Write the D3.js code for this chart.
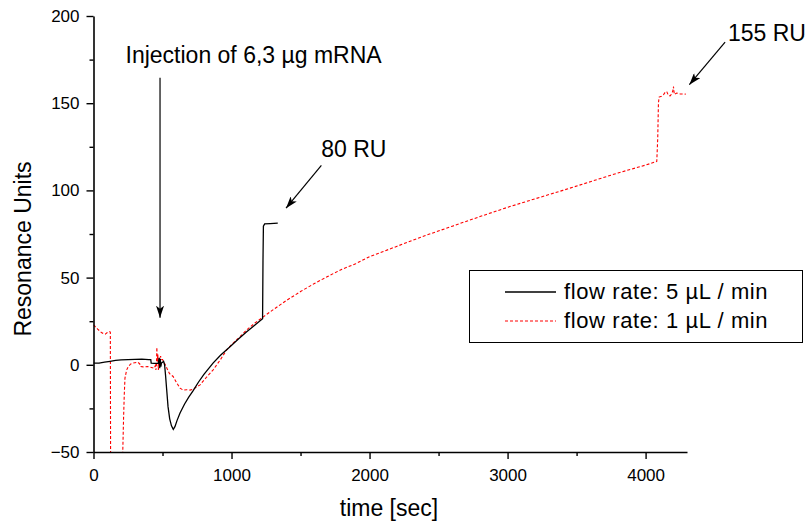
<!DOCTYPE html>
<html>
<head>
<meta charset="utf-8">
<script src="https://cdn.jsdelivr.net/npm/d3@7"></script>
<style>
  html, body { margin: 0; padding: 0; background: #fff; }
  svg { display: block; font-family: "Liberation Sans", Arial, sans-serif; }
</style>
</head>
<body>
<svg id="chart" width="809" height="522"></svg>
<script>
// ---- data ----
const xMajorTicks = [0, 1000, 2000, 3000, 4000];
const xMinorTicks = [500, 1500, 2500, 3500];
const yMajorTicks = [-50, 0, 50, 100, 150, 200];
const yMinorTicks = [-25, 25, 75, 125, 175];

const seriesNames = ["flow rate: 5 µL / min", "flow rate: 1 µL / min"];

// [time (s), resonance units]
const flow5 = [
  [0,1],[40,1],[80,1.5],[120,2],[160,2.5],[200,2.8],[250,3],[300,3.1],[350,3.2],[400,3],[415,3],
  [418,1],[440,0.8],[470,1],[476,4],[480,-2],[484,3.5],[488,-1],[492,1],[500,1.5],[508,2],[515,0],
  [522,-6],[530,-14],[540,-24],[552,-31],[565,-35],[578,-37],[590,-35.5],[605,-32],[627,-27.6],
  [660,-22.5],[690,-18.5],[721,-15],[760,-10],[800,-5.5],[866,1],[920,5.5],[989,10.4],[1050,14.8],
  [1110,19],[1170,22.8],[1225,26.4],[1228,60],[1231,79.5],[1240,80.8],[1280,81],[1335,81.2]
];

const flow1 = [
  [0,22.9],[30,20.5],[60,18.3],[85,17.6],[100,18.5],[116,19],[122,18.8],[124,-60],[209,-60],
  [212,-50],[218,-30],[223,-17],[228,-7.6],[240,-3],[252,-1],[270,0.5],[288,1],[320,1.5],[335,0.5],
  [340,-1],[360,-1.2],[390,-1],[420,-1.5],[440,-2],[448,-0.5],[452,-3],[456,0],[459,10],[462,2],
  [466,6],[470,-3],[474,4],[480,2],[486,5],[492,3],[500,3],[510,1.5],[520,0],[535,-2.5],[550,-5],
  [577,-6.7],[600,-10],[627,-13.4],[650,-14.5],[675,-14.3],[700,-14.5],[722,-14],[750,-12.5],
  [772,-11.5],[820,-7],[867,-2.9],[920,3],[965,8.6],[1000,11.5],[1040,14.5],[1110,20],[1170,24],
  [1230,27.5],[1300,31.5],[1400,37],[1500,42],[1600,46.6],[1700,50.8],[1800,54.8],[1900,58],
  [2000,62],[2100,65],[2200,68],[2400,74],[2600,79.5],[2800,85],[3000,90.3],[3200,95.2],[3400,100],
  [3600,105],[3800,110],[4000,114.5],[4081,116.6],[4088,130],[4093,150],[4098,153.5],[4115,154],
  [4129,154.8],[4140,156],[4153,156.7],[4165,154.5],[4178,154.2],[4190,155.5],[4197,157],
  [4202,159.6],[4208,155],[4226,155.8],[4250,155.3],[4291,155.2]
];

// annotations: text anchor and arrow (from -> to) in data coordinates
const annotations = [
  { text: "Injection of 6,3 µg mRNA", tx: 232, ty: 173, from: [482, 164.6], to: [482, 27] },
  { text: "80 RU", tx: 1650, ty: 119, from: [1651, 114.3], to: [1395, 89.8] },
  { text: "155 RU", tx: 4597, ty: 185.5, from: [4576, 185], to: [4317, 160.6] }
];

// ---- chart ----
const svg = d3.select("#chart");
const x = d3.scaleLinear().domain([0, 4300]).range([93.5, 687]);
const y = d3.scaleLinear().domain([-50, 200]).range([452, 16]);

svg.append("defs").append("clipPath").attr("id", "plotclip")
  .append("rect").attr("x", x(0)).attr("y", y(200))
  .attr("width", x(4300) - x(0)).attr("height", y(-50) - y(200));

const marker = svg.select("defs").append("marker")
  .attr("id", "arrow").attr("viewBox", "0 0 12 8")
  .attr("refX", 12).attr("refY", 4)
  .attr("markerWidth", 12).attr("markerHeight", 8)
  .attr("markerUnits", "userSpaceOnUse")
  .attr("orient", "auto");
marker.append("path").attr("d", "M0,0 L12,4 L0,8 L3,4 Z").attr("fill", "#000");

const line = d3.line().x(d => x(d[0])).y(d => y(d[1]));

const plot = svg.append("g").attr("clip-path", "url(#plotclip)");
plot.append("path").datum(flow1)
  .attr("fill", "none").attr("stroke", "#ff0000").attr("stroke-width", 1.1)
  .attr("stroke-dasharray", "3,2").attr("d", line);
plot.append("path").datum(flow5)
  .attr("fill", "none").attr("stroke", "#000").attr("stroke-width", 1.3)
  .attr("d", line);

// axes
function styleAxis(g) {
  g.selectAll("path.domain").attr("stroke", "#000").attr("stroke-width", 1.6);
  g.selectAll(".tick line").attr("stroke", "#000").attr("stroke-width", 1.4);
  g.selectAll(".tick text").attr("font-size", 17).attr("fill", "#000")
    .attr("font-family", "'Liberation Sans', Arial, sans-serif");
}
const xAxisG = svg.append("g").attr("transform", `translate(0,${y(-50)})`)
  .call(d3.axisBottom(x).tickValues(xMajorTicks).tickFormat(d3.format("d"))
    .tickSize(7).tickPadding(10).tickSizeOuter(0));
styleAxis(xAxisG);
const xMinorG = svg.append("g").attr("transform", `translate(0,${y(-50)})`)
  .call(d3.axisBottom(x).tickValues(xMinorTicks).tickSize(4).tickFormat("").tickSizeOuter(0));
styleAxis(xMinorG);
xMinorG.select("path.domain").remove();

const yAxisG = svg.append("g").attr("transform", `translate(${x(0)},0)`)
  .call(d3.axisLeft(y).tickValues(yMajorTicks).tickFormat(d3.format("d"))
    .tickSize(7).tickPadding(7).tickSizeOuter(0));
styleAxis(yAxisG);
const yMinorG = svg.append("g").attr("transform", `translate(${x(0)},0)`)
  .call(d3.axisLeft(y).tickValues(yMinorTicks).tickSize(4).tickFormat("").tickSizeOuter(0));
styleAxis(yMinorG);
yMinorG.select("path.domain").remove();

// axis titles
svg.append("text").attr("x", 389).attr("y", 516).attr("text-anchor", "middle")
  .attr("font-size", 23).text("time [sec]");
svg.append("text").attr("transform", "translate(31,249) rotate(-90)")
  .attr("text-anchor", "middle").attr("font-size", 23).text("Resonance Units");

// annotations
const ann = svg.append("g");
annotations.forEach(a => {
  ann.append("text").attr("x", x(a.tx)).attr("y", y(a.ty))
    .attr("font-size", 23).attr("fill", "#000").text(a.text);
  ann.append("line")
    .attr("x1", x(a.from[0])).attr("y1", y(a.from[1]))
    .attr("x2", x(a.to[0])).attr("y2", y(a.to[1]))
    .attr("stroke", "#000").attr("stroke-width", 1.2)
    .attr("marker-end", "url(#arrow)");
});

// legend
const lg = svg.append("g");
lg.append("rect").attr("x", 469.5).attr("y", 270.5).attr("width", 333).attr("height", 72)
  .attr("fill", "#fff").attr("stroke", "#000").attr("stroke-width", 1);
const legendItems = [
  { name: seriesNames[0], color: "#000", dash: null, y: 292, w: 1.3 },
  { name: seriesNames[1], color: "#ff0000", dash: "3,2", y: 321, w: 1.1 }
];
legendItems.forEach(it => {
  lg.append("line").attr("x1", 505).attr("x2", 556).attr("y1", it.y).attr("y2", it.y)
    .attr("stroke", it.color).attr("stroke-width", it.w)
    .attr("stroke-dasharray", it.dash);
  lg.append("text").attr("x", 564).attr("y", it.y + 7).attr("font-size", 22)
    .attr("letter-spacing", 0.6).attr("fill", "#000").text(it.name);
});
</script>
</body>
</html>
